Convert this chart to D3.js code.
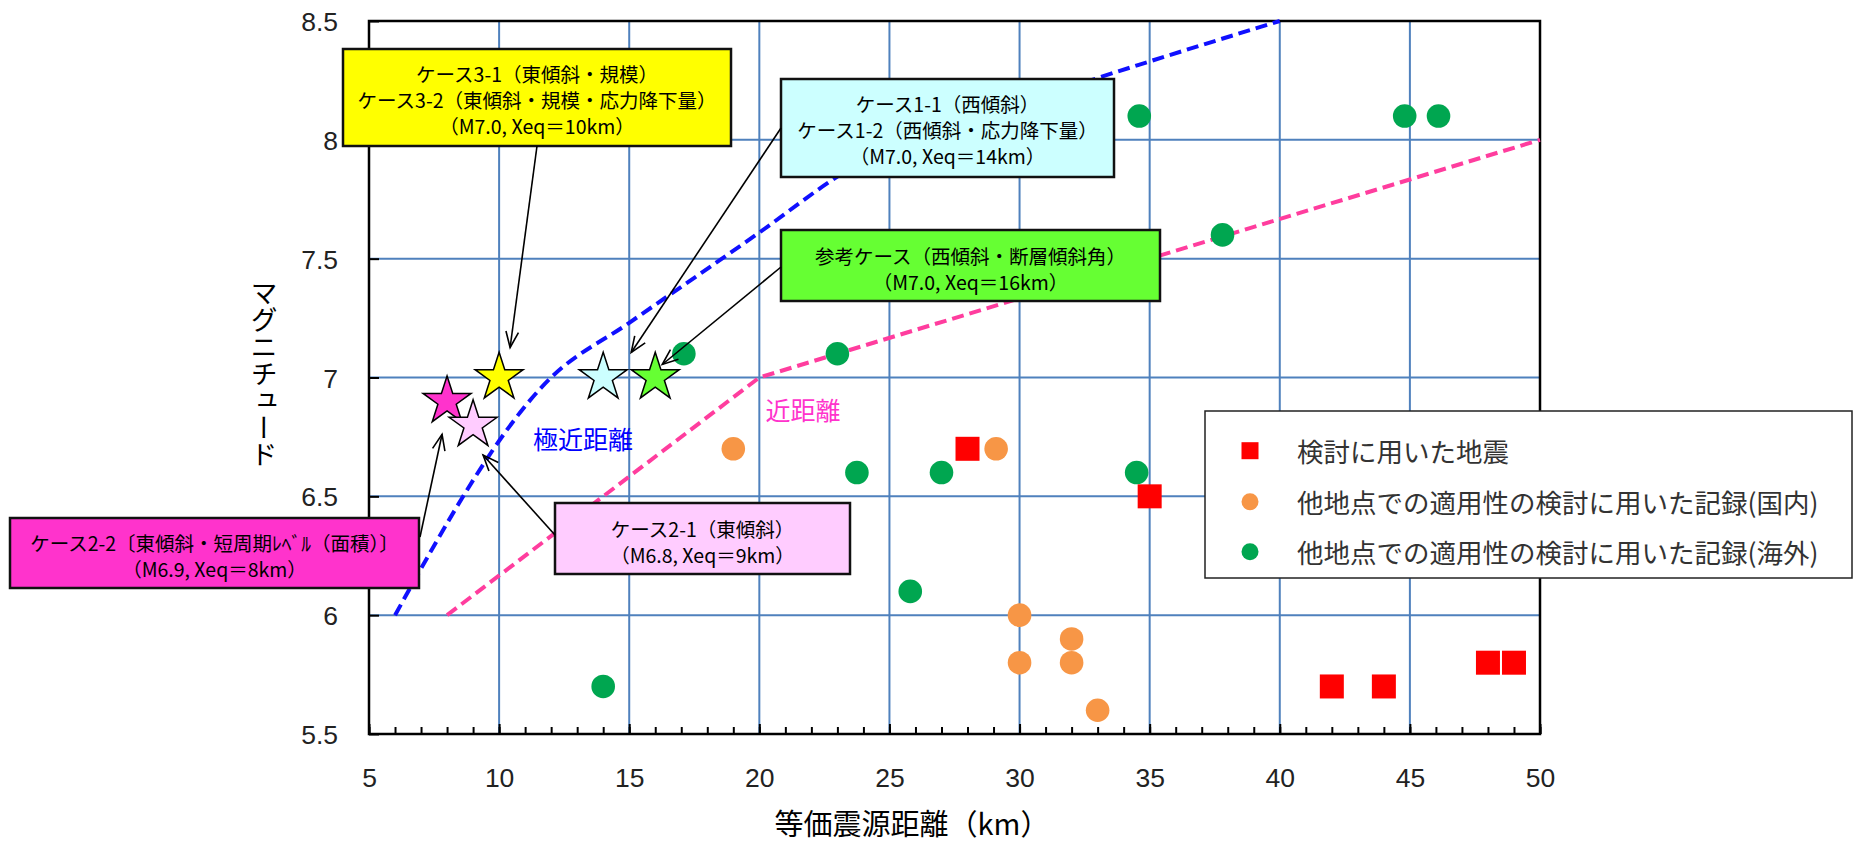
<!DOCTYPE html>
<html>
<head>
<meta charset="utf-8">
<script src="https://cdn.jsdelivr.net/npm/d3@7"></script>
<style>
  html, body { margin: 0; padding: 0; background: #fff; }
  svg { display: block; }
</style>
</head>
<body>
<svg id="chart" width="1854" height="846"></svg>
<script>
// ---- Axis ticks ----
const xTicks = [5, 10, 15, 20, 25, 30, 35, 40, 45, 50];
const yTicks = [5.5, 6, 6.5, 7, 7.5, 8, 8.5];
const xMinorTicks = d3.range(5, 51, 1);

// ---- Earthquake records: [equivalent hypocentral distance Xeq (km), magnitude] ----
const quakesUsed = [[28, 6.7], [35, 6.5], [42, 5.7], [44, 5.7], [48, 5.8], [49, 5.8]];
const domesticRecords = [[19, 6.7], [29.1, 6.7], [30, 6.0], [30, 5.8], [32, 5.9], [32, 5.8], [33, 5.6]];
const overseasRecords = [[14, 5.7], [17.1, 7.1], [23, 7.1], [23.75, 6.6], [25.8, 6.1], [27, 6.6],
                         [34.5, 6.6], [34.6, 8.1], [37.8, 7.6], [44.8, 8.1], [46.1, 8.1]];

// ---- Distance range boundaries ----
const veryNearLimit = [[6, 6.0], [12, 7.0], [15, 7.23], [20, 7.61], [23, 7.845], [33, 8.26], [35, 8.33], [40, 8.5]];
const nearLimit = [[8, 6.0], [20, 7.0], [50, 8.0]];

// ---- Fault model cases ----
const caseM = [6.9, 6.8, 7.0, 7.0, 7.0];
const caseXeq = [8, 9, 10, 14, 16];
const caseColors = ["#ff33cc", "#ffccff", "#ffff00", "#ccffff", "#66ff33"];
const caseLabels = [
  ["ケース2-2〔東傾斜・短周期ﾚﾍﾞﾙ（面積）〕", "（M6.9, Xeq＝8km）"],
  ["ケース2-1（東傾斜）", "（M6.8, Xeq＝9km）"],
  ["ケース3-1（東傾斜・規模）", "ケース3-2（東傾斜・規模・応力降下量）", "（M7.0, Xeq＝10km）"],
  ["ケース1-1（西傾斜）", "ケース1-2（西傾斜・応力降下量）", "（M7.0, Xeq＝14km）"],
  ["参考ケース（西傾斜・断層傾斜角）", "（M7.0, Xeq＝16km）"]
];

const legendLabels = [
  "検討に用いた地震",
  "他地点での適用性の検討に用いた記録(国内)",
  "他地点での適用性の検討に用いた記録(海外)"
];

// ---- Layout ----
const plot = { left: 369, right: 1540, top: 21, bottom: 734 };
// callout boxes: rectangle, first text line offset, arrow start, arrow tip offset from the star
const calloutLayout = [
  { x: 10,  y: 518, w: 409, h: 70, first: 24, from: [420, 537], tip: [-5, 33] },
  { x: 555, y: 503, w: 295, h: 71, first: 25, from: [555, 535], tip: [10, 30] },
  { x: 343, y: 49,  w: 388, h: 97, first: 24, from: [537, 146], tip: [11, -30] },
  { x: 781, y: 79,  w: 333, h: 98, first: 24, from: [781, 128], tip: [28, -25] },
  { x: 781, y: 230, w: 379, h: 71, first: 25, from: [781, 267], tip: [7, -13] }
];
const calloutLineStep = 26;

const COLORS = {
  grid: "#4f81bd",
  quake: "#ff0000",
  domestic: "#f79646",
  overseas: "#00a650",
  veryNear: "#1010ff",
  near: "#ff3d9e",
  nearText: "#ff33cc"
};
const JP = "'Noto Sans CJK JP', 'Noto Sans', sans-serif";
const NUM = "'Liberation Sans', Arial, sans-serif";

const svg = d3.select("#chart");
const x = d3.scaleLinear().domain([5, 50]).range([plot.left, plot.right]);
const y = d3.scaleLinear().domain([5.5, 8.5]).range([plot.bottom, plot.top]);

// ---- Grid ----
const grid = svg.append("g");
grid.selectAll("line.gx").data(xTicks.slice(1, -1)).join("line")
  .attr("x1", d => x(d)).attr("x2", d => x(d))
  .attr("y1", plot.top).attr("y2", plot.bottom)
  .attr("stroke", COLORS.grid).attr("stroke-width", 2);
grid.selectAll("line.gy").data(yTicks.slice(1, -1)).join("line")
  .attr("x1", plot.left).attr("x2", plot.right)
  .attr("y1", d => y(d)).attr("y2", d => y(d))
  .attr("stroke", COLORS.grid).attr("stroke-width", 2);

// ---- Axes ----
const xMinor = svg.append("g").attr("transform", `translate(0,${plot.bottom})`)
  .call(d3.axisBottom(x).tickValues(xMinorTicks).tickSize(-7).tickFormat(""));
const xAxis = svg.append("g").attr("transform", `translate(0,${plot.bottom})`)
  .call(d3.axisBottom(x).tickValues(xTicks).tickSize(-10).tickPadding(34).tickFormat(d => d));
const yAxis = svg.append("g").attr("transform", `translate(${plot.left},0)`)
  .call(d3.axisLeft(y).tickValues(yTicks).tickSize(-10).tickPadding(31).tickFormat(d => d));
[xMinor, xAxis, yAxis].forEach(g => {
  g.select(".domain").remove();
  g.selectAll(".tick line").attr("stroke", "#000").attr("stroke-width", 2);
  g.selectAll(".tick text").attr("font-family", NUM).attr("font-size", 26.5).attr("fill", "#222");
});
yAxis.selectAll(".tick text").attr("dy", "0.36em");

// ---- Plot frame ----
svg.append("rect")
  .attr("x", plot.left).attr("y", plot.top)
  .attr("width", plot.right - plot.left).attr("height", plot.bottom - plot.top)
  .attr("fill", "none").attr("stroke", "#000").attr("stroke-width", 2.5);

// ---- Distance range boundaries ----
svg.append("path").datum(veryNearLimit)
  .attr("d", d3.line().x(d => x(d[0])).y(d => y(d[1])).curve(d3.curveMonotoneX))
  .attr("fill", "none").attr("stroke", COLORS.veryNear)
  .attr("stroke-width", 4).attr("stroke-dasharray", "12,6");
svg.append("path").datum(nearLimit)
  .attr("d", d3.line().x(d => x(d[0])).y(d => y(d[1])))
  .attr("fill", "none").attr("stroke", COLORS.near)
  .attr("stroke-width", 4).attr("stroke-dasharray", "12,6");

svg.append("text").attr("x", 583).attr("y", 438)
  .attr("text-anchor", "middle").attr("dominant-baseline", "central")
  .attr("font-family", JP).attr("font-size", 25).attr("fill", "#0000ff")
  .text("極近距離");
svg.append("text").attr("x", 803).attr("y", 409)
  .attr("text-anchor", "middle").attr("dominant-baseline", "central")
  .attr("font-family", JP).attr("font-size", 25).attr("fill", COLORS.nearText)
  .text("近距離");

// ---- Records ----
svg.append("g").selectAll("circle").data(domesticRecords).join("circle")
  .attr("cx", d => x(d[0])).attr("cy", d => y(d[1])).attr("r", 11.8)
  .attr("fill", COLORS.domestic);
svg.append("g").selectAll("circle").data(overseasRecords).join("circle")
  .attr("cx", d => x(d[0])).attr("cy", d => y(d[1])).attr("r", 11.8)
  .attr("fill", COLORS.overseas);
svg.append("g").selectAll("rect").data(quakesUsed).join("rect")
  .attr("x", d => x(d[0]) - 12).attr("y", d => y(d[1]) - 12)
  .attr("width", 24).attr("height", 24)
  .attr("fill", COLORS.quake);

// ---- Fault model cases (stars) ----
const starPath = d3.symbol(d3.symbolStar, 715);
const cases = caseM.map((m, i) => ({ m, xeq: caseXeq[i], color: caseColors[i], label: caseLabels[i], layout: calloutLayout[i] }));
svg.append("g").selectAll("path").data(cases).join("path")
  .attr("d", starPath)
  .attr("transform", d => `translate(${x(d.xeq)},${y(d.m)})`)
  .attr("fill", d => d.color).attr("stroke", "#000").attr("stroke-width", 1.5)
  .attr("stroke-linejoin", "miter");

// ---- Callout boxes with arrows ----
const callouts = svg.append("g");
cases.forEach(c => {
  const L = c.layout;
  const g = callouts.append("g");
  g.append("rect").attr("x", L.x).attr("y", L.y).attr("width", L.w).attr("height", L.h)
    .attr("fill", c.color).attr("stroke", "#111").attr("stroke-width", 2.5);
  const cx = L.x + L.w / 2;
  const txt = g.append("text")
    .attr("text-anchor", "middle").attr("dominant-baseline", "central")
    .attr("font-family", JP).attr("font-size", 19.5).attr("fill", "#000");
  c.label.forEach((t, j) => {
    txt.append("tspan").attr("x", cx).attr("y", L.y + L.first + j * calloutLineStep).text(t);
  });
  // arrow from box to the star
  const tx = x(c.xeq) + L.tip[0], ty = y(c.m) + L.tip[1];
  const [fx, fy] = L.from;
  const ang = Math.atan2(ty - fy, tx - fx);
  const head = 17, spread = 0.38;
  g.append("line").attr("x1", fx).attr("y1", fy).attr("x2", tx).attr("y2", ty)
    .attr("stroke", "#000").attr("stroke-width", 1.6);
  g.append("path")
    .attr("d", `M${tx - head * Math.cos(ang - spread)},${ty - head * Math.sin(ang - spread)}` +
               `L${tx},${ty}` +
               `L${tx - head * Math.cos(ang + spread)},${ty - head * Math.sin(ang + spread)}`)
    .attr("fill", "none").attr("stroke", "#000").attr("stroke-width", 1.6);
});

// ---- Legend ----
const legend = svg.append("g");
legend.append("rect").attr("x", 1205).attr("y", 411).attr("width", 647).attr("height", 167)
  .attr("fill", "#fff").attr("stroke", "#222").attr("stroke-width", 1.5);
const legendRows = [450.7, 501.7, 551.7];
legend.append("rect").attr("x", 1250 - 8.5).attr("y", legendRows[0] - 8.5)
  .attr("width", 17).attr("height", 17).attr("fill", COLORS.quake);
legend.append("circle").attr("cx", 1250).attr("cy", legendRows[1]).attr("r", 8.5).attr("fill", COLORS.domestic);
legend.append("circle").attr("cx", 1250).attr("cy", legendRows[2]).attr("r", 8.5).attr("fill", COLORS.overseas);
legend.selectAll("text").data(legendLabels).join("text")
  .attr("x", 1297).attr("y", (d, i) => legendRows[i])
  .attr("dominant-baseline", "central")
  .attr("font-family", JP).attr("font-size", 26.5).attr("fill", "#333")
  .text(d => d);

// ---- Axis titles ----
svg.append("text").attr("x", 912).attr("y", 822)
  .attr("text-anchor", "middle").attr("dominant-baseline", "central")
  .attr("font-family", JP).attr("font-size", 29).attr("fill", "#000")
  .text("等価震源距離（km）");
svg.append("text").attr("x", 264).attr("y", 374)
  .attr("text-anchor", "middle")
  .attr("font-family", JP).attr("font-size", 27).attr("fill", "#000")
  .style("writing-mode", "vertical-rl")
  .text("マグニチュード");
</script>
</body>
</html>
